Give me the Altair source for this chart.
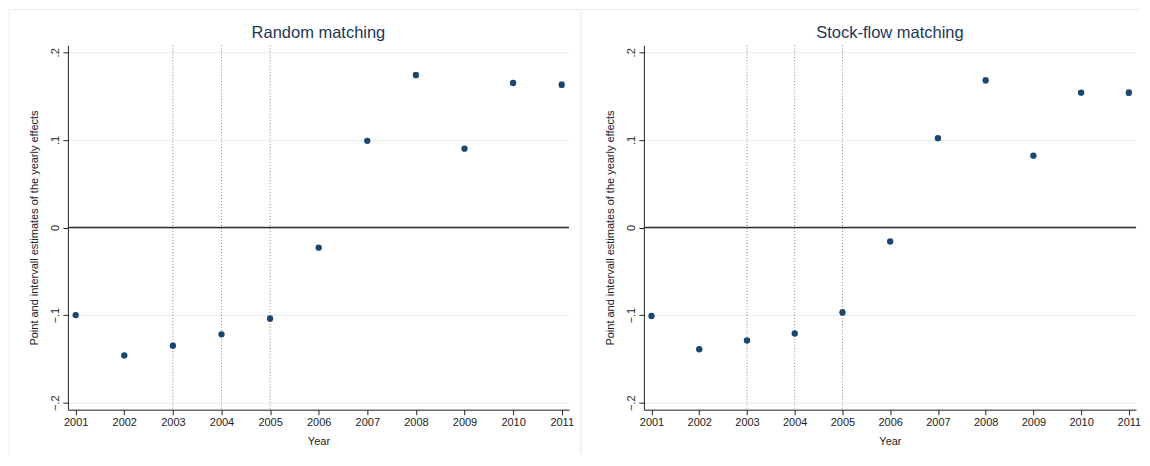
import altair as alt
import pandas as pd

# yearly effects
years = [2001, 2002, 2003, 2004, 2005, 2006, 2007, 2008, 2009, 2010, 2011]
random_est = [-0.100, -0.146, -0.135, -0.122, -0.104, -0.023, 0.099, 0.174, 0.090, 0.165, 0.163]
random_half = [0.002, 0.002, 0.002, 0.002, 0.003, 0.002, 0.002, 0.003, 0.002, 0.002, 0.003]
stock_est = [-0.101, -0.139, -0.129, -0.121, -0.097, -0.016, 0.102, 0.168, 0.082, 0.154, 0.154]
stock_half = [0.002, 0.002, 0.002, 0.002, 0.003, 0.002, 0.002, 0.003, 0.002, 0.002, 0.003]
policy_years = [2003, 2004, 2005]
y_ticks = [-0.2, -0.1, 0, 0.1, 0.2]

NAVY = "#1a476f"
MAROON = "#90353b"
TITLE_COLOR = "#1f3656"
BOX = "#e6eef0"
FONT = "Liberation Sans"

PLOT_H = 365
X_DOMAIN = [2000.84, 2011.15]
Y_DOMAIN = [-0.208, 0.208]


def x_enc(field):
    return alt.X(
        f"{field}:Q",
        scale=alt.Scale(domain=X_DOMAIN, nice=False, zero=False),
        axis=alt.Axis(values=years, format="d", title="Year", grid=False,
                      tickSize=5, labelPadding=2, titlePadding=8, labelAngle=0),
    )


def y_enc(field):
    return alt.Y(
        f"{field}:Q",
        scale=alt.Scale(domain=Y_DOMAIN, nice=False, zero=False),
        axis=alt.Axis(
            values=y_ticks,
            labelExpr="datum.value == 0 ? '0' : replace(format(datum.value, '.1f'), '0.', '.')",
            title="Point and intervall estimates of the yearly effects",
            grid=True, tickSize=5, labelAngle=270, labelAlign="center",
            labelBaseline="bottom", labelPadding=2, titlePadding=10,
        ),
    )


def panel(title, est, half, width, box_left, box_right, right_edge):
    df = pd.DataFrame({
        "year": years,
        "est": est,
        "lo": [e - h for e, h in zip(est, half)],
        "hi": [e + h for e, h in zip(est, half)],
    })
    one = pd.DataFrame({"label": [title]})

    # light outline of the graph region
    box = [
        alt.Chart(one).mark_rule(color=BOX, strokeWidth=1).encode(
            x=alt.value(box_left), y=alt.value(-36), y2=alt.value(410)),
        alt.Chart(one).mark_rule(color=BOX, strokeWidth=1).encode(
            x=alt.value(box_left), x2=alt.value(box_right), y=alt.value(-36)),
    ]
    if right_edge:
        box.append(alt.Chart(one).mark_rule(color=BOX, strokeWidth=1).encode(
            x=alt.value(box_right), y=alt.value(-36), y2=alt.value(410)))

    heading = alt.Chart(one).mark_text(
        font=FONT, fontSize=16.5, color=TITLE_COLOR, align="center", baseline="alphabetic"
    ).encode(text="label:N", x=alt.value(width / 2), y=alt.value(-7))

    vlines = alt.Chart(pd.DataFrame({"year": policy_years})).mark_rule(
        color="#8a8a8a", strokeDash=[1, 2], strokeWidth=1
    ).encode(x=x_enc("year"))

    zero = alt.Chart(pd.DataFrame({"est": [0.0]})).mark_rule(
        color="#333333", strokeWidth=1.4
    ).encode(y=y_enc("est"))

    base = alt.Chart(df)
    ci = base.mark_rule(color=MAROON, strokeWidth=1).encode(
        x=x_enc("year"), y=y_enc("lo"), y2="hi")
    cap_lo = base.mark_tick(color=MAROON, orient="horizontal", size=5, thickness=1).encode(
        x=x_enc("year"), y=y_enc("lo"))
    cap_hi = base.mark_tick(color=MAROON, orient="horizontal", size=5, thickness=1).encode(
        x=x_enc("year"), y=y_enc("hi"))
    points = base.mark_circle(color=NAVY, size=40, opacity=1).encode(
        x=x_enc("year"), y=y_enc("est"))

    return alt.layer(*box, heading, vlines, zero, ci, cap_lo, cap_hi, points).properties(
        width=width, height=PLOT_H
    )


left = panel("Random matching", random_est, random_half, 502, -59, 513, True)
right = panel("Stock-flow matching", stock_est, stock_half, 493, -62, 497, False)

chart = (
    alt.hconcat(left, right, spacing=0)
    .properties(padding=0, background="white")
    .configure_view(stroke="transparent")
    .configure_axis(
        domainColor="#222222", tickColor="#222222", labelColor="#222222",
        titleColor="#222222", labelFont=FONT, titleFont=FONT,
        labelFontSize=11, titleFontSize=11, titleFontWeight="normal",
        gridColor="#e4ecee", domainWidth=1, tickWidth=1,
    )
)

chart.save("out.html", embed_options={"renderer": "svg", "actions": False})
